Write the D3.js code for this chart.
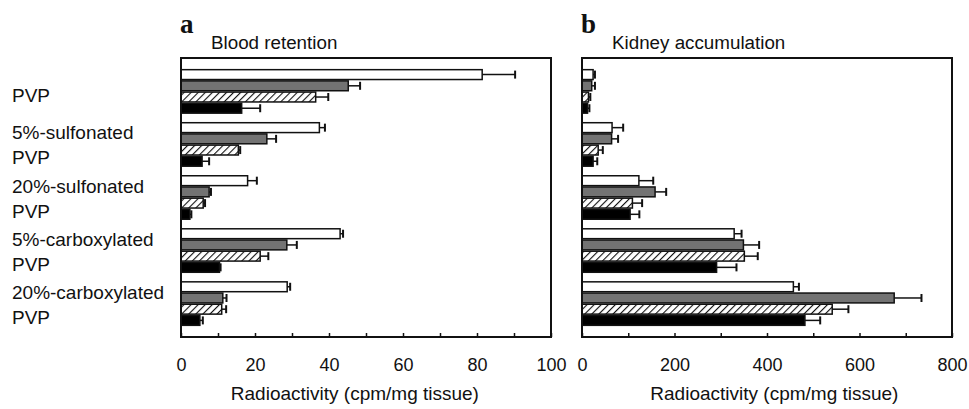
<!DOCTYPE html>
<html>
<head>
<meta charset="utf-8">
<script src="https://cdn.jsdelivr.net/npm/d3@7/dist/d3.min.js"></script>
<style>
  html, body { margin: 0; padding: 0; background: #fff; }
  svg { display: block; }
  text { font-family: "Liberation Sans", Arial, sans-serif; fill: #111; }
</style>
</head>
<body>
<svg id="chart" width="969" height="409"></svg>
<script>
// ---------- data ----------
const categories = [
  ["PVP"],
  ["5%-sulfonated", "PVP"],
  ["20%-sulfonated", "PVP"],
  ["5%-carboxylated", "PVP"],
  ["20%-carboxylated", "PVP"]
];
const seriesNames = ["Series 1", "Series 2", "Series 3", "Series 4"];

const bloodValues = [
  [81.4, 45.2, 36.4, 16.4],
  [37.4, 23.2, 15.5, 5.7],
  [18.0, 7.6, 6.0, 2.4],
  [43.0, 28.6, 21.4, 10.4],
  [28.7, 11.3, 11.0, 5.1]
];
const bloodErrors = [
  [8.9, 3.2, 3.4, 5.0],
  [1.5, 2.5, 0.5, 1.9],
  [2.5, 0.5, 0.5, 0.4],
  [0.8, 2.7, 2.2, 0.3],
  [0.8, 1.0, 1.2, 0.8]
];
const bloodTicks = [0, 10, 20, 30, 40, 50, 60, 70, 80, 90, 100];
const bloodTickLabels = [0, 20, 40, 60, 80, 100];

const kidneyValues = [
  [24, 21, 14, 12],
  [65, 64, 35, 24],
  [123, 158, 109, 104],
  [329, 349, 351, 291],
  [457, 675, 541, 482]
];
const kidneyErrors = [
  [4, 7, 4, 4],
  [24, 14, 10, 9],
  [31, 24, 21, 20],
  [16, 34, 29, 43],
  [12, 59, 35, 33]
];
const kidneyTicks = [0, 100, 200, 300, 400, 500, 600, 700, 800];
const kidneyTickLabels = [0, 200, 400, 600, 800];

const panelLetters = ["a", "b"];
const panelTitles = ["Blood retention", "Kidney accumulation"];
const xAxisTitle = "Radioactivity (cpm/mg tissue)";

// ---------- layout ----------
const svg = d3.select("#chart");
const plotTop = 58, plotBottom = 337;
const panels = [
  { x0: 181, x1: 551, max: 100, titleFrac: 0.47, values: bloodValues, errors: bloodErrors, ticks: bloodTicks, labels: bloodTickLabels },
  { x0: 582, x1: 952, max: 800, titleFrac: 0.52, values: kidneyValues, errors: kidneyErrors, ticks: kidneyTicks, labels: kidneyTickLabels }
];

const fills = ["#ffffff", "#737373", "url(#hatch)", "#000000"];

// hatch pattern
const defs = svg.append("defs");
const pat = defs.append("pattern")
  .attr("id", "hatch")
  .attr("patternUnits", "userSpaceOnUse")
  .attr("width", 5).attr("height", 5)
  .attr("patternTransform", "rotate(45)");
pat.append("rect").attr("width", 5).attr("height", 5).attr("fill", "#fff");
pat.append("line").attr("x1", 0).attr("y1", 0).attr("x2", 0).attr("y2", 5)
  .attr("stroke", "#111").attr("stroke-width", 2.2);

const y = d3.scaleBand()
  .domain(d3.range(categories.length))
  .range([plotTop, plotBottom])
  .paddingInner(0.18)
  .paddingOuter(0.22);
const yInner = d3.scaleBand()
  .domain(seriesNames)
  .range([0, y.bandwidth()])
  .paddingInner(0.12);

panels.forEach((p, pi) => {
  const x = d3.scaleLinear().domain([0, p.max]).range([p.x0, p.x1]);
  const g = svg.append("g");

  // bars
  categories.forEach((cat, ci) => {
    seriesNames.forEach((s, si) => {
      const v = p.values[ci][si];
      const e = p.errors[ci][si];
      const by = y(ci) + yInner(s);
      const bh = yInner.bandwidth();
      const cy = by + bh / 2;
      // error bar
      g.append("line")
        .attr("x1", x(v)).attr("x2", x(v + e))
        .attr("y1", cy).attr("y2", cy)
        .attr("stroke", "#111").attr("stroke-width", 1.5);
      g.append("line")
        .attr("x1", x(v + e)).attr("x2", x(v + e))
        .attr("y1", cy - 4).attr("y2", cy + 4)
        .attr("stroke", "#111").attr("stroke-width", 2);
      g.append("rect")
        .attr("x", x(0)).attr("y", by)
        .attr("width", x(v) - x(0)).attr("height", bh)
        .attr("fill", fills[si])
        .attr("stroke", "#111").attr("stroke-width", 1.5);
    });
  });

  // frame
  g.append("rect")
    .attr("x", p.x0).attr("y", plotTop)
    .attr("width", p.x1 - p.x0).attr("height", plotBottom - plotTop)
    .attr("fill", "none").attr("stroke", "#111").attr("stroke-width", 2);

  // axis
  const axis = d3.axisBottom(x)
    .tickValues(p.ticks)
    .tickSizeInner(-4)
    .tickSizeOuter(0)
    .tickPadding(21)
    .tickFormat(d => p.labels.includes(d) ? d : "");
  const ag = g.append("g").attr("transform", `translate(0,${plotBottom})`).call(axis);
  ag.select(".domain").remove();
  ag.selectAll(".tick line").attr("stroke", "#111").attr("stroke-width", 1.5);
  ag.selectAll(".tick text")
    .style("font-family", '"Liberation Sans", Arial, sans-serif')
    .style("font-size", "18px").attr("fill", "#111");

  // x-axis title
  g.append("text")
    .attr("x", x(p.max * p.titleFrac)).attr("y", 400)
    .attr("text-anchor", "middle")
    .style("font-size", "19px")
    .text(xAxisTitle);

  // panel letter
  g.append("text")
    .attr("x", p.x0 - 1).attr("y", 33)
    .style("font-family", '"Liberation Serif", "Times New Roman", serif')
    .style("font-weight", "bold")
    .style("font-size", "27px")
    .text(panelLetters[pi]);

  // panel title
  g.append("text")
    .attr("x", p.x0 + 30).attr("y", 49)
    .style("font-size", "18.8px")
    .text(panelTitles[pi]);
});

// category labels
categories.forEach((lines, ci) => {
  const c = y(ci) + y.bandwidth() / 2;
  if (lines.length === 1) {
    svg.append("text").attr("x", 12).attr("y", c + 11)
      .style("font-size", "19px").text(lines[0]);
  } else {
    lines.forEach((ln, li) => {
      svg.append("text").attr("x", 12).attr("y", c - 5 + li * 25)
        .style("font-size", "19px").text(ln);
    });
  }
});
</script>
</body>
</html>
